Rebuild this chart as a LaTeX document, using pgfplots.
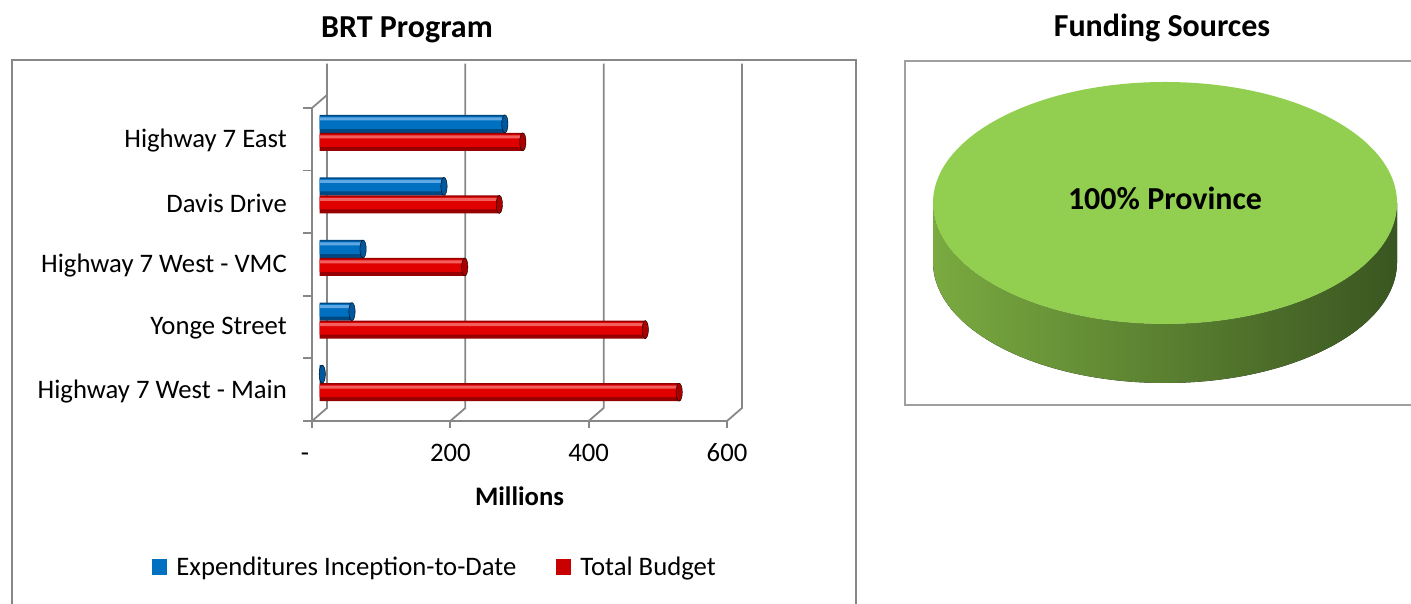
\documentclass[border=0pt]{standalone}
\usepackage{pgfplots}
\pgfplotsset{compat=1.18}
\usepackage{pgfplotstable}
\usepackage{fontspec}
\setmainfont{Carlito}
\definecolor{framegray}{RGB}{135,135,135}
\definecolor{boxgray}{RGB}{135,135,135}
\definecolor{expblue}{RGB}{0,112,192}
\definecolor{expdark}{RGB}{0,72,130}
\definecolor{explight}{RGB}{95,168,228}
\definecolor{expcap}{RGB}{0,88,158}
\definecolor{budred}{RGB}{224,0,0}
\definecolor{buddark}{RGB}{150,0,0}
\definecolor{budlight}{RGB}{242,95,95}
\definecolor{budcap}{RGB}{170,0,0}
\definecolor{legred}{RGB}{200,0,0}
\definecolor{piegreen}{RGB}{146,207,80}
\newcommand{\lbl}{\fontsize{26.7bp}{32bp}\selectfont}
\newcommand{\ttl}{\fontsize{32bp}{37bp}\selectfont}
\newcommand{\pielbl}{\fontsize{32bp}{37bp}\selectfont}
\pgfplotstableread{
cat exp budget
0 4 520
1 47 471
2 63 210
3 180 260
4 268 294
}\brt
\begin{document}
\begin{tikzpicture}[x=1bp,y=1bp]
\path[use as bounding box] (0,0) rectangle (1411,604);
\draw[boxgray, line width=1.6bp] (12,-10) rectangle (856,544);
\draw[boxgray!80, line width=1.6bp] (905,199) rectangle (1430,543);
\node[font=\ttl\bfseries] at (407,574) {BRT Program};
\node[font=\ttl\bfseries] at (1162,576) {Funding Sources};

% frame axis (front plane)
\begin{axis}[
  at={(312bp,183bp)}, anchor=south west,
  width=415bp, height=313bp, scale only axis,
  xmin=0, xmax=600, ymin=-0.5, ymax=4.5,
  axis x line*=bottom, axis y line*=left,
  axis line style={-, draw=framegray, line width=1.8bp},
  tick style={draw=framegray, line width=1.8bp},
  tick align=outside,
  major tick length=7bp,
  minor tick length=9bp,
  xtick={0,200,400,600},
  xticklabels={\makebox[0pt][r]{-\hspace{3bp}},200,400,600},
  x tick label style={font=\lbl, anchor=base, inner sep=0pt, yshift=-34bp},
  ytick={0,1,2,3,4},
  yticklabels={Highway 7 West - Main, Yonge Street, Highway 7 West - VMC, Davis Drive, Highway 7 East},
  major y tick style={draw=none},
  minor ytick={-0.5,0.5,1.5,2.5,3.5,4.5},
  y tick label style={font=\lbl, anchor=east, inner sep=0pt, xshift=-18bp, yshift=-1.5bp},
  xlabel={\textbf{Millions}},
  xlabel style={font=\lbl, at={(axis description cs:0.5,0)}, anchor=base, yshift=-85bp},
  legend image code/.code={\fill[#1] (0bp,-8bp) rectangle (15bp,8bp);},
  legend style={at={(axis description cs:-0.385,-0.465)}, anchor=west,
    draw=none, fill=none, legend columns=2, font=\lbl, inner sep=0pt,
    nodes={inner sep=0pt},
    /tikz/every odd column/.append style={column sep=9bp},
    /tikz/every even column/.append style={column sep=40bp}},
  clip=false,
]
\addlegendimage{fill=expblue, draw=none}
\addlegendentry{Expenditures Inception-to-Date}
\addlegendimage{fill=legred, draw=none}
\addlegendentry{Total Budget}
\pgfplotsinvokeforeach{0,200,400,600}{
  \draw[framegray, line width=1.8bp] (axis cs:#1,-0.5) -- ++(15bp,13bp) -- ++(0,313bp);
}
\draw[framegray, line width=1.8bp] (axis cs:0,4.5) -- ++(15bp,13bp);
\end{axis}

% bar axis (mid-depth plane)
\begin{axis}[
  at={(319.5bp,189.5bp)}, anchor=south west,
  width=415bp, height=313bp, scale only axis,
  xmin=0, xmax=600, ymin=-0.5, ymax=4.5,
  hide axis, clip=false,
]
% expenditures: dark base, main body, highlight
\addplot[xbar, bar width=18bp, bar shift=9bp, draw=none, fill=expdark] table[x=exp, y=cat] {\brt};
\addplot[xbar, bar width=12.5bp, bar shift=10.25bp, draw=none, fill=expblue] table[x=exp, y=cat] {\brt};
\addplot[xbar, bar width=3bp, bar shift=14bp, draw=none, fill=explight] table[x=exp, y=cat] {\brt};
% total budget
\addplot[xbar, bar width=18bp, bar shift=-9bp, draw=none, fill=buddark] table[x=budget, y=cat] {\brt};
\addplot[xbar, bar width=12.5bp, bar shift=-7.75bp, draw=none, fill=budred] table[x=budget, y=cat] {\brt};
\addplot[xbar, bar width=3bp, bar shift=-4bp, draw=none, fill=budlight] table[x=budget, y=cat] {\brt};
% rounded cylinder caps
\addplot[only marks, mark=*, mark size=9bp,
  mark options={draw=none, fill=expcap, yshift=9bp, xscale=0.35}]
  table[x=exp, y=cat] {\brt};
\addplot[only marks, mark=*, mark size=9bp,
  mark options={draw=none, fill=budcap, yshift=-9bp, xscale=0.35}]
  table[x=budget, y=cat] {\brt};
\end{axis}

% pie (100% Province)
\begin{axis}[
  at={(1165bp,401bp)}, anchor=center,
  width=464bp, height=242bp, scale only axis,
  xmin=-1, xmax=1, ymin=-1, ymax=1,
  hide axis, clip=false,
]
\coordinate (pieL) at (axis cs:-1,0);
\coordinate (pieC) at (axis cs:0,0);
\end{axis}
\fill[left color={rgb,255:red,122;green,170;blue,64}, middle color={rgb,255:red,92;green,138;blue,48}, right color={rgb,255:red,58;green,86;blue,33}]
  (pieL) -- ++(0,-59) arc[start angle=180, end angle=360, x radius=232, y radius=121]
  -- ++(0,59) arc[start angle=360, end angle=180, x radius=232, y radius=121] -- cycle;
\fill[piegreen] (pieC) ellipse [x radius=232, y radius=121];
\node[font=\pielbl\bfseries] at ([yshift=5]pieC) {100\% Province};
\end{tikzpicture}
\end{document}
